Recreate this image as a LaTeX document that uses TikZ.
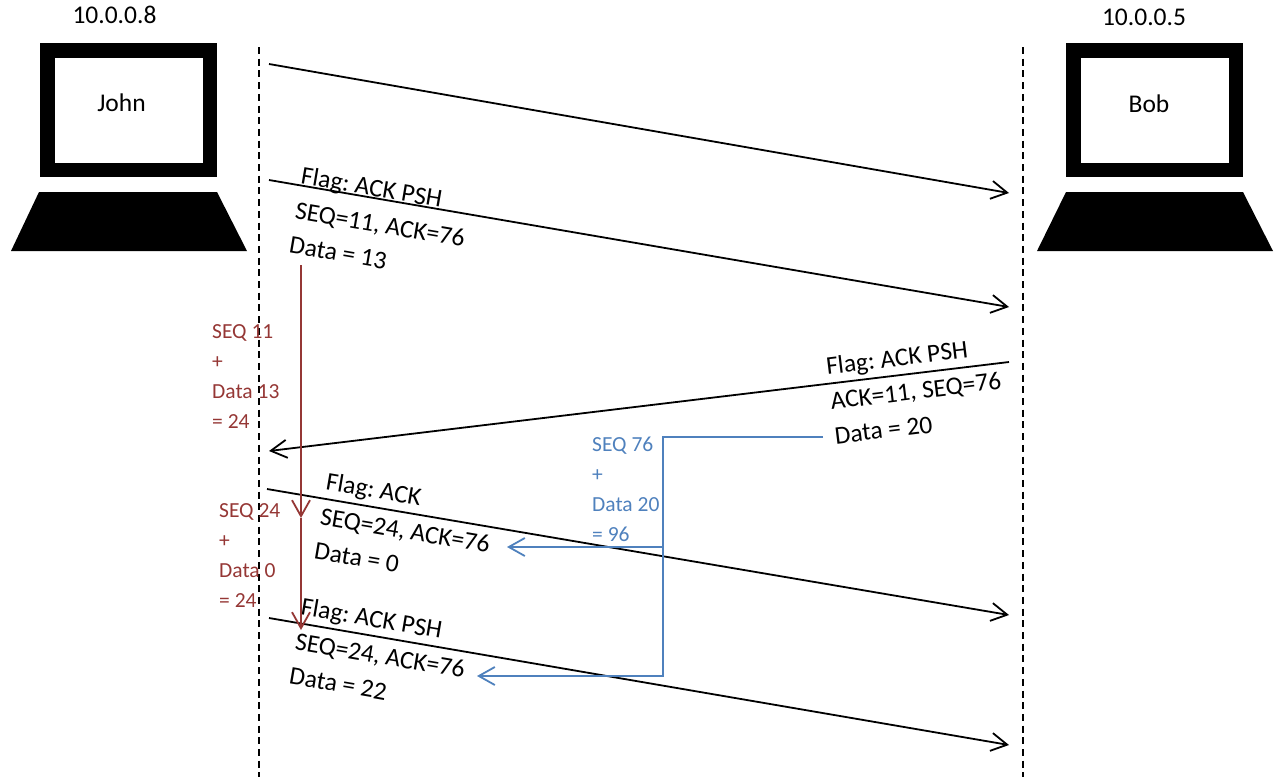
\documentclass[tikz,border=0pt]{standalone}
\usepackage{fontspec}
\setmainfont{Carlito}
\usetikzlibrary{arrows.meta}
\definecolor{sumred}{RGB}{149,55,53}
\definecolor{sumblue}{RGB}{79,129,189}
\frenchspacing
\tikzset{
  msg/.style={line width=1.8pt,-{Straight Barb[length=16pt,width=18pt]}},
  lifeline/.style={line width=1.8pt,dash pattern=on 7pt off 4.7pt},
  screen/.style={draw,line width=14.5pt,minimum width=162.5pt,minimum height=119.5pt,inner sep=0pt},
  hosttext/.style={inner sep=0pt,font=\fontsize{25.5}{30}\selectfont},
  msglabel/.style={anchor=north west,align=left,inner sep=0pt,font=\fontsize{25.5}{35}\selectfont},
  sumlabel/.style={anchor=north west,align=left,inner sep=0pt,font=\fontsize{21.5}{30}\selectfont},
}
\begin{document}
\begin{tikzpicture}[x=1pt,y=-1pt]
        \useasboundingbox (0,0) rectangle (1285,777);
        %% John's computer
        \node[hosttext] (johnip) at (114.5,14.5) {10.0.0.8};
        \node[screen] (johnpc) at (128.5,110) {};
        \node[hosttext] (john) at (121.5,103) {John};
        \fill (39,192) -- (217,192) -- (247,251) -- (11,251) -- cycle;
        %% Bob's computer
        \node[hosttext] (bobip) at (1144,17.5) {10.0.0.5};
        \node[screen] (bobpc) at (1154.5,110) {};
        \node[hosttext] (bob) at (1149,104) {Bob};
        \fill (1066,192) -- (1243,192) -- (1273,251) -- (1037,251) -- cycle;
        %% lifelines
        \coordinate (jtop) at (259,47);
        \coordinate (jbot) at (259,777);
        \coordinate (btop) at (1023,47);
        \coordinate (bbot) at (1023,777);
        \draw[lifeline] (jtop) -- (jbot);
        \draw[lifeline] (btop) -- (bbot);
        %% messages
        \coordinate (m1a) at (269,64);   \coordinate (m1b) at (1009,193);
        \coordinate (m2a) at (269,180);  \coordinate (m2b) at (1009,307);
        \coordinate (m3a) at (1009,362); \coordinate (m3b) at (269,451);
        \coordinate (m4a) at (267,489);  \coordinate (m4b) at (1009,615);
        \coordinate (m5a) at (269,618);  \coordinate (m5b) at (1009,745);
        \draw[msg] (m1a) -- (m1b);
        \draw[msg] (m2a) -- (m2b);
        \draw[msg] (m3a) -- (m3b);
        \draw[msg] (m4a) -- (m4b);
        \draw[msg] (m5a) -- (m5b);
        %% message labels
        \node[msglabel,rotate=-9.7] (l2) at (303,166) {Flag: ACK PSH\\SEQ=11, ACK=76\\Data = 13};
        \node[msglabel,rotate=6.9] (l3) at (825,357) {Flag: ACK PSH\\ACK=11, SEQ=76\\Data = 20};
        \node[msglabel,rotate=-9.7] (l4) at (328,472) {Flag: ACK\\SEQ=24, ACK=76\\Data = 0};
        \node[msglabel,rotate=-9.7] (l5) at (303,597) {Flag: ACK PSH\\SEQ=24, ACK=76\\Data = 22};
        %% John's sequence numbers
        \coordinate (r0) at (301,265);
        \coordinate (r1) at (301,518);
        \coordinate (r2) at (301,630);
        \draw[msg,sumred] (r0) -- (r1);
        \draw[msg,sumred] (r1) -- (r2);
        \node[sumlabel,text=sumred] (s1) at (212,324) {SEQ 11\\+\\Data 13\\= 24};
        \node[sumlabel,text=sumred] (s2) at (219,503) {SEQ 24\\+\\Data 0\\= 24};
        %% Bob's sequence number
        \coordinate (b0) at (823,437);
        \coordinate (b1) at (663,437);
        \coordinate (b2) at (663,547);
        \coordinate (b3) at (663,676);
        \coordinate (b4) at (507,547);
        \coordinate (b5) at (477,676);
        \draw[msg,sumblue] (b0) -- (b1) -- (b3) -- (b5);
        \draw[msg,sumblue] (b2) -- (b4);
        \node[sumlabel,text=sumblue] (s3) at (592,437) {SEQ 76\\+\\Data 20\\= 96};
    \end{tikzpicture}
\end{document}
